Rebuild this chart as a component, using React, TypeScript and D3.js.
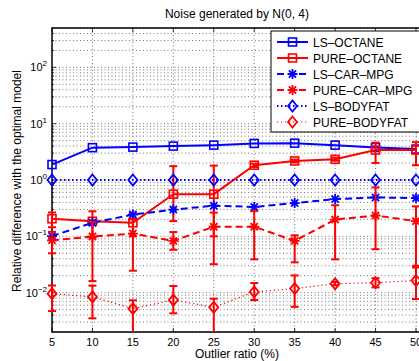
import React, { useRef, useEffect } from 'react';
import * as d3 from 'd3';

const ratios = [5, 10, 15, 20, 25, 30, 35, 40, 45, 50];
const xTicks = [5, 10, 15, 20, 25, 30, 35, 40, 45, 50];
const yTickExps = [-2, -1, 0, 1, 2];

const lsOctane = [1.88, 3.75, 3.84, 4.0, 4.16, 4.46, 4.51, 4.16, 3.79, 3.54];
const pureOctane = [0.205, 0.185, 0.174, 0.56, 0.56, 1.83, 2.18, 2.33, 3.4, 3.4];
const pureOctaneLow = [0.145, 0.095, 0.1, 0.186, 0.1, 1.7, 2.05, 2.2, 2.0, 1.83];
const pureOctaneHigh = [0.265, 0.278, 0.26, 1.76, 1.8, 1.95, 2.3, 2.5, 4.6, 4.7];

const lsCarMpg = [0.101, 0.174, 0.243, 0.298, 0.35, 0.332, 0.39, 0.458, 0.49, 0.477];
const pureCarMpg = [0.085, 0.099, 0.112, 0.083, 0.148, 0.148, 0.083, 0.198, 0.234, 0.186];
const pureCarMpgLow = [0.05, 0.016, 0.0245, 0.0576, 0.032, 0.039, 0.0345, 0.039, 0.059, 0.03];
const pureCarMpgHigh = [0.12, 0.18, 0.2, 0.119, 0.264, 0.28, 0.104, 0.357, 0.74, 0.34];

const lsBodyfat = [1, 1, 1, 1, 1, 1, 1, 1, 1, 1];
const pureBodyfat = [0.0096, 0.0084, 0.0052, 0.0074, 0.0055, 0.0103, 0.0118, 0.0144, 0.015, 0.0164];
const pureBodyfatLow = [0.0047, 0.0035, 0.0005, 0.0043, 0.0005, 0.0074, 0.0056, 0.0135, 0.0124, 0.0077];
const pureBodyfatHigh = [0.0134, 0.0133, 0.0073, 0.0131, 0.0078, 0.0148, 0.0202, 0.0155, 0.018, 0.028];

const BLUE = '#0000ff';
const RED = '#ff0000';
const FONT = '"Liberation Sans", Arial, Helvetica, sans-serif';

interface Series {
  name: string;
  values: number[];
  low?: number[];
  high?: number[];
  color: string;
  dash: string | null;
  width: number;
  marker: 'square' | 'star' | 'diamond';
}

const series: Series[] = [
  { name: 'LS\u2013OCTANE', values: lsOctane, color: BLUE, dash: null, width: 2, marker: 'square' },
  { name: 'PURE\u2013OCTANE', values: pureOctane, low: pureOctaneLow, high: pureOctaneHigh, color: RED, dash: null, width: 2, marker: 'square' },
  { name: 'LS\u2013CAR\u2013MPG', values: lsCarMpg, color: BLUE, dash: '7,4', width: 2, marker: 'star' },
  { name: 'PURE\u2013CAR\u2013MPG', values: pureCarMpg, low: pureCarMpgLow, high: pureCarMpgHigh, color: RED, dash: '7,4', width: 2, marker: 'star' },
  { name: 'LS\u2013BODYFAT', values: lsBodyfat, color: BLUE, dash: '1.5,2.5', width: 2, marker: 'diamond' },
  { name: 'PURE\u2013BODYFAT', values: pureBodyfat, low: pureBodyfatLow, high: pureBodyfatHigh, color: RED, dash: '1.2,2.8', width: 1.2, marker: 'diamond' },
];

const W = 419;
const H = 361;

function drawMarker(g: d3.Selection<SVGGElement, unknown, null, undefined>, kind: string, x: number, y: number, color: string) {
  if (kind === 'square') {
    g.append('rect').attr('x', x - 4).attr('y', y - 4).attr('width', 8).attr('height', 8)
      .attr('fill', 'none').attr('stroke', color).attr('stroke-width', 1.6);
  } else if (kind === 'diamond') {
    g.append('path').attr('d', `M${x},${y - 5.5}L${x + 4.5},${y}L${x},${y + 5.5}L${x - 4.5},${y}Z`)
      .attr('fill', 'none').attr('stroke', color).attr('stroke-width', 1.8);
  } else {
    const r = 5;
    const d = r * 0.72;
    g.append('path')
      .attr('d', `M${x},${y - r}L${x},${y + r}M${x - r},${y}L${x + r},${y}M${x - d},${y - d}L${x + d},${y + d}M${x - d},${y + d}L${x + d},${y - d}`)
      .attr('stroke', color).attr('stroke-width', 1.8).attr('fill', 'none');
  }
}

const App: React.FC = () => {
  const svgRef = useRef<SVGSVGElement | null>(null);

  useEffect(() => {
    const svg = d3.select(svgRef.current);
    svg.selectAll('*').remove();

    const left = 52, top = 28, bottom = 332, right = 421;

    const x = d3.scaleLinear().domain([5, 50]).range([52, 416]);
    const y = d3.scaleLog().domain([0.002, 500]).range([bottom, top]);

    svg.append('rect').attr('width', W).attr('height', H).attr('fill', '#fff');

    svg.append('defs').append('clipPath').attr('id', 'plotclip')
      .append('rect').attr('x', left - 10).attr('y', top).attr('width', right - left + 20).attr('height', bottom - top);

    // grid
    const grid = svg.append('g').attr('stroke', '#555').attr('stroke-width', 0.8).attr('stroke-dasharray', '1,2.5');
    xTicks.forEach(t => {
      if (t === 5) return;
      grid.append('line').attr('x1', x(t)).attr('x2', x(t)).attr('y1', top).attr('y2', bottom);
    });
    const yGridVals: number[] = [];
    for (let e = -3; e <= 2; e++) {
      for (let m = 1; m <= 9; m++) {
        const v = m * Math.pow(10, e);
        if (v >= 0.002 && v <= 500) yGridVals.push(v);
      }
    }
    yGridVals.forEach(v => {
      grid.append('line').attr('x1', left).attr('x2', right).attr('y1', y(v)).attr('y2', y(v));
    });

    // ticks (inside)
    const ticks = svg.append('g').attr('stroke', '#000').attr('stroke-width', 0.8);
    xTicks.forEach(t => {
      ticks.append('line').attr('x1', x(t)).attr('x2', x(t)).attr('y1', bottom).attr('y2', bottom - 4);
      ticks.append('line').attr('x1', x(t)).attr('x2', x(t)).attr('y1', top).attr('y2', top + 4);
    });
    yGridVals.forEach(v => {
      const major = Math.abs(Math.log10(v) - Math.round(Math.log10(v))) < 1e-9;
      ticks.append('line').attr('x1', left).attr('x2', left + (major ? 4 : 2)).attr('y1', y(v)).attr('y2', y(v));
    });

    // axes box
    svg.append('path')
      .attr('d', `M${right},${top}L${left},${top}L${left},${bottom}L${right},${bottom}`)
      .attr('fill', 'none').attr('stroke', '#000').attr('stroke-width', 1.5);

    // tick labels
    const xl = svg.append('g').attr('font-family', FONT).attr('font-size', 11).attr('fill', '#000');
    xTicks.forEach(t => {
      xl.append('text').attr('x', x(t)).attr('y', 346).attr('text-anchor', 'middle').text(String(t));
    });
    yTickExps.forEach(e => {
      const t = xl.append('text').attr('x', 47).attr('y', y(Math.pow(10, e)) + 4).attr('text-anchor', 'end');
      t.append('tspan').text('10');
      t.append('tspan').attr('font-size', 8).attr('dy', -5).text(e < 0 ? '\u2212' + Math.abs(e) : String(e));
    });

    // series
    const plot = svg.append('g').attr('clip-path', 'url(#plotclip)');
    series.forEach(s => {
      const g = plot.append('g');
      const line = d3.line<number>().x((_, i) => x(ratios[i])).y(v => y(v));
      g.append('path').attr('d', line(s.values) as string)
        .attr('fill', 'none').attr('stroke', s.color).attr('stroke-width', s.width)
        .attr('stroke-dasharray', s.dash ?? null);
      if (s.low && s.high) {
        s.values.forEach((_, i) => {
          const cx = x(ratios[i]);
          const y1 = y(Math.max(s.low![i], 1e-4));
          const y2 = y(s.high![i]);
          g.append('line').attr('x1', cx).attr('x2', cx).attr('y1', y1).attr('y2', y2)
            .attr('stroke', s.color).attr('stroke-width', 2);
          [y1, y2].forEach(yy => {
            g.append('line').attr('x1', cx - 4).attr('x2', cx + 4).attr('y1', yy).attr('y2', yy)
              .attr('stroke', s.color).attr('stroke-width', 2);
          });
        });
      }
      s.values.forEach((v, i) => drawMarker(g, s.marker, x(ratios[i]), y(v), s.color));
    });

    // legend
    const lg = svg.append('g');
    lg.append('rect').attr('x', 271).attr('y', 31).attr('width', 170).attr('height', 101)
      .attr('fill', '#fff').attr('stroke', '#000').attr('stroke-width', 1);
    series.forEach((s, i) => {
      const ly = 42 + i * 16;
      lg.append('line').attr('x1', 277).attr('x2', 308).attr('y1', ly).attr('y2', ly)
        .attr('stroke', s.color).attr('stroke-width', s.width).attr('stroke-dasharray', s.dash ?? null);
      drawMarker(lg, s.marker, 292.5, ly, s.color);
      lg.append('text').attr('x', 313).attr('y', ly + 4.5).attr('font-family', FONT).attr('font-size', 12)
        .attr('fill', '#000').text(s.name);
    });

    // title and axis labels
    svg.append('text').attr('x', 237).attr('y', 18).attr('text-anchor', 'middle')
      .attr('font-family', FONT).attr('font-size', 12).attr('fill', '#000').text('Noise generated by N(0, 4)');
    svg.append('text').attr('x', 237).attr('y', 358).attr('text-anchor', 'middle')
      .attr('font-family', FONT).attr('font-size', 12).attr('fill', '#000').text('Outlier ratio (%)');
    svg.append('text').attr('transform', 'translate(21,181) rotate(-90)').attr('text-anchor', 'middle')
      .attr('font-family', FONT).attr('font-size', 12).attr('fill', '#000').text('Relative difference with the optimal model');
  }, []);

  return (
    <svg ref={svgRef} width={W} height={H} style={{ position: 'absolute', left: 0, top: 0, display: 'block' }} />
  );
};

export default App;
